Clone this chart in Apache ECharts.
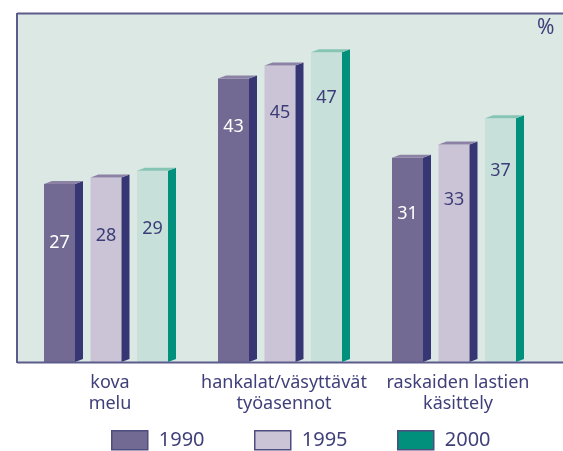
<!DOCTYPE html>
<html>
<head>
<meta charset="utf-8">
<script src="https://cdn.jsdelivr.net/npm/echarts@6/dist/echarts.min.js"></script>
<style>
  html, body { margin: 0; padding: 0; background: #fff; }
  #main { width: 563px; height: 451px; }
</style>
</head>
<body>
<div id="main"></div>
<script>
// data
var categories = ["kova\nmelu", "hankalat/väsyttävät\ntyöasennot", "raskaiden lastien\nkäsittely"];
var years = ["1990", "1995", "2000"];
var values1990 = [27, 43, 31];
var values1995 = [28, 45, 33];
var values2000 = [29, 47, 37];

var chart = echarts.init(document.getElementById("main"));

var textColor = "#3f3f7a";
var frame = "#5c5c8c";
// front, side, top, label colour
var looks = [
  { front: "#736a93", side: "#363674", top: "#8b82a6", label: "#ffffff" },
  { front: "#cbc4d6", side: "#363674", top: "#8b82a6", label: "#3c3c78" },
  { front: "#c7e0da", side: "#00907b", top: "#86c4b4", label: "#3c3c78" }
];

function makeRender(idx) {
  return function (params, api) {
    var cat = api.value(0);
    var v = api.value(1);
    var p = api.coord([cat, v]);
    var b = api.coord([cat, 0]);
    var w = 31, d = 8, r = 3;
    var x0 = p[0] - 66 + idx * 46.5;
    var x1 = x0 + w;
    var top = p[1], bot = b[1];
    var lk = looks[idx];
    var ly = top + 77 - 0.1 * (bot - top);
    return {
      type: "group",
      children: [
        { type: "rect", shape: { x: x0, y: top, width: w, height: bot - top }, style: { fill: lk.front } },
        { type: "polygon", shape: { points: [[x1, top], [x1 + d, top - r], [x1 + d, bot - r], [x1, bot]] }, style: { fill: lk.side } },
        { type: "polygon", shape: { points: [[x0, top], [x1, top], [x1 + d, top - r], [x0 + d, top - r]] }, style: { fill: lk.top } },
        { type: "text", style: { text: String(v), x: x0 + w / 2, y: ly, align: "center", verticalAlign: "middle",
            fill: lk.label, font: "18px 'Noto Sans'" } }
      ]
    };
  };
}

function mkSeries(name, vals, idx) {
  return {
    type: "custom",
    name: name,
    renderItem: makeRender(idx),
    itemStyle: { color: idx === 2 ? "#00907b" : looks[idx].front },
    data: vals.map(function (v, i) { return [i, v]; }),
    encode: { x: 0, y: 1 },
    z: 3
  };
}

function mkLegend(name, idx, left) {
  return {
    left: left,
    top: 430,
    padding: 0,
    icon: "rect",
    itemWidth: 36,
    itemHeight: 19,
    data: [{ name: name, icon: "rect", itemStyle: { color: idx === 2 ? "#00907b" : looks[idx].front, borderColor: "#4d4d80", borderWidth: 1.5 } }],
    textStyle: { color: textColor, fontFamily: "Noto Sans", fontSize: 20, padding: [8, 0, 0, 6] },
    selectedMode: false
  };
}

chart.setOption({
  animation: false,
  grid: { left: 23, width: 522, top: 14, bottom: 89 },
  xAxis: {
    type: "category",
    data: categories,
    axisLine: { show: false },
    axisTick: { show: false },
    axisLabel: { interval: 0, color: textColor, fontFamily: "Noto Sans", fontSize: 18, lineHeight: 21, margin: 10 }
  },
  yAxis: {
    type: "value",
    min: 0,
    max: 52.8,
    show: false
  },
  legend: [mkLegend("1990", 0, 111), mkLegend("1995", 1, 254), mkLegend("2000", 2, 397)],
  graphic: [
    { type: "rect", z: -10, shape: { x: 17, y: 13, width: 546, height: 350 }, style: { fill: "#dbe8e3" } },
    { type: "line", z: 10, shape: { x1: 17, y1: 13.5, x2: 563, y2: 13.5 }, style: { stroke: frame, lineWidth: 2 } },
    { type: "line", z: 10, shape: { x1: 17, y1: 13, x2: 17, y2: 363 }, style: { stroke: frame, lineWidth: 2 } },
    { type: "line", z: 10, shape: { x1: 17, y1: 362.5, x2: 563, y2: 362.5 }, style: { stroke: frame, lineWidth: 2 } },
    { type: "text", z: 10, left: 537, top: 18, style: { text: "%", fill: textColor, font: "21px 'Noto Sans'" } }
  ],
  series: [
    mkSeries(years[0], values1990, 0),
    mkSeries(years[1], values1995, 1),
    mkSeries(years[2], values2000, 2)
  ]
});
</script>
</body>
</html>
